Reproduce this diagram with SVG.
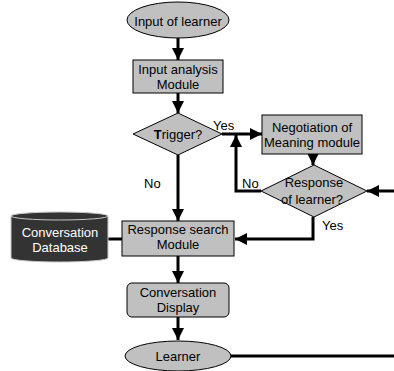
<svg xmlns="http://www.w3.org/2000/svg" width="394" height="371" viewBox="0 0 394 371">
<defs>
<marker id="ah" markerWidth="12" markerHeight="12" refX="12" refY="6" orient="auto" markerUnits="userSpaceOnUse">
<path d="M0,0 L12,6 L0,12 Z" fill="#000"/>
</marker>
<style>
.n{fill:#c0c0c0;stroke:#000;stroke-width:1}
.t{font-family:"Liberation Sans",Arial,sans-serif;font-size:13px;fill:#000;text-anchor:middle}
.l{font-family:"Liberation Sans",Arial,sans-serif;font-size:13px;fill:#000}
.c{fill:none;stroke:#000;stroke-width:3}
.a{marker-end:url(#ah)}
</style>
</defs>
<rect width="394" height="371" fill="#fff"/>
<g id="connectors">
<path class="c a" d="M178,38 V60"/>
<path class="c a" d="M178,93 V113"/>
<path class="c a" d="M222,134 H262"/>
<path class="c a" d="M313,154 V165"/>
<path class="c a" d="M261,191 H236 V135"/>
<path class="c a" d="M178,155 V221"/>
<path class="c a" d="M313,217 V239 H235"/>
<path class="c a" d="M394,191 H367"/>
<path class="c" d="M107,239 H122"/>
<path class="c a" d="M178,256 V283"/>
<path class="c a" d="M178,317 V340"/>
<path class="c" d="M230,356 H394"/>
</g>
<g id="input-of-learner">
<ellipse class="n" cx="178" cy="20" rx="51" ry="18"/>
<text class="t" x="178" y="26">Input of learner</text>
</g>
<g id="input-analysis">
<rect class="n" x="133" y="60" width="90" height="33"/>
<text class="t" x="178" y="74">Input analysis</text>
<text class="t" x="178" y="89">Module</text>
</g>
<g id="trigger">
<polygon class="n" points="178,113 222,134 178,155 133,134"/>
<text class="t" x="178" y="139"><tspan font-weight="bold">T</tspan>rigger?</text>
</g>
<g id="negotiation">
<rect class="n" x="262" y="115" width="100" height="39"/>
<text class="t" x="312" y="132">Negotiation of</text>
<text class="t" x="312" y="147">Meaning module</text>
</g>
<g id="response-of-learner">
<polygon class="n" points="314,165 367,191 314,217 261,191"/>
<text class="t" x="314" y="187">Response</text>
<text class="t" x="312" y="204">of learner?</text>
</g>
<g id="database">
<path d="M11,216 A48.5,4 0 0 1 108,216 V258 A48.5,4 0 0 1 11,258 Z" fill="#333" stroke="#c8c8c8" stroke-width="1"/>
<path d="M11,216 A48.5,4 0 0 0 108,216" fill="none" stroke="#c8c8c8" stroke-width="1"/>
<text class="t" x="60" y="237" style="fill:#fff">Conversation</text>
<text class="t" x="60" y="252" style="fill:#fff">Database</text>
</g>
<g id="response-search">
<rect class="n" x="122" y="221" width="112" height="35"/>
<text class="t" x="178" y="234">Response search</text>
<text class="t" x="178" y="249">Module</text>
</g>
<g id="conversation-display">
<rect class="n" x="127" y="283" width="102" height="34" rx="5"/>
<text class="t" x="178" y="297">Conversation</text>
<text class="t" x="178" y="312">Display</text>
</g>
<g id="learner">
<ellipse class="n" cx="178" cy="356" rx="53" ry="15"/>
<text class="t" x="178" y="361">Learner</text>
</g>
<g id="labels">
<text class="l" x="213" y="130">Yes</text>
<text class="l" x="144" y="188">No</text>
<text class="l" x="242" y="188">No</text>
<text class="l" x="322" y="230">Yes</text>
</g>
</svg>
